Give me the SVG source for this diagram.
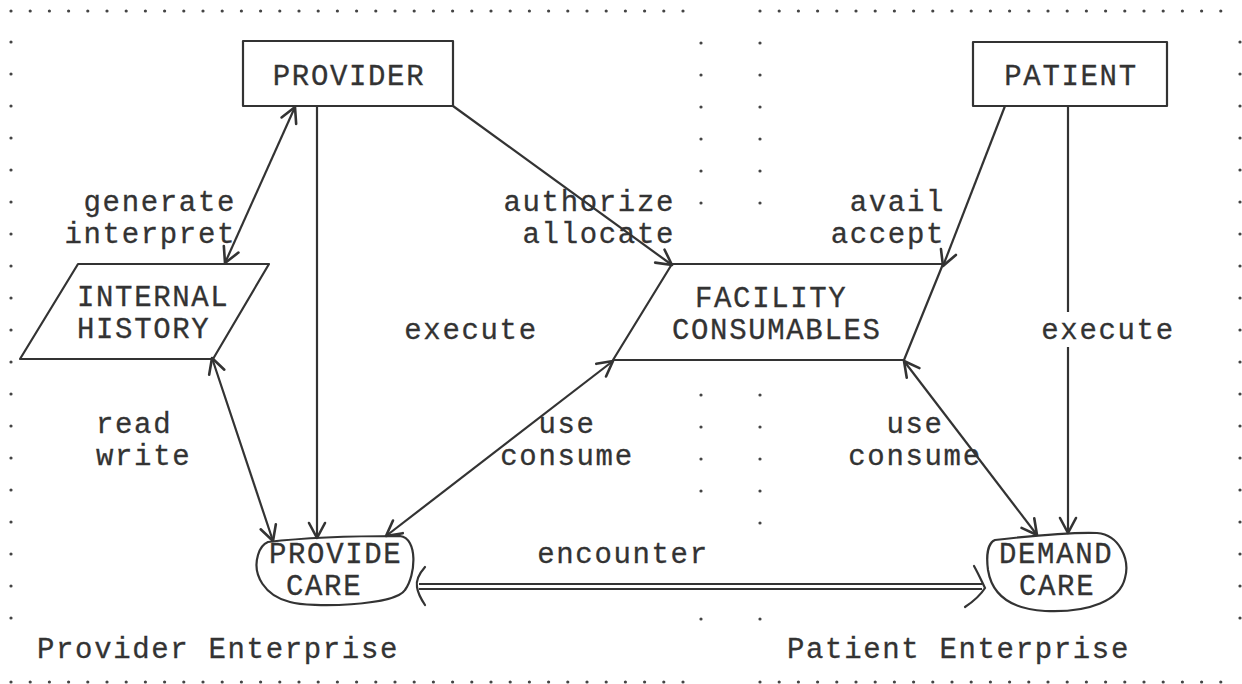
<svg xmlns="http://www.w3.org/2000/svg" width="1242" height="684" viewBox="0 0 1242 684">
<style>
text{font-family:"Liberation Mono","Courier New",monospace;font-size:29px;letter-spacing:1.65px;fill:#333;stroke:#333;stroke-width:0.3}
.node{fill:none;stroke:#333;stroke-width:2.2;stroke-linejoin:round}
.ln{fill:none;stroke:#333;stroke-width:2.2}
.dot{fill:none;stroke:#444;stroke-width:3.2;stroke-linecap:round}
.m{text-anchor:middle}
.e{text-anchor:end}
</style>
<defs>
<marker id="arr" markerUnits="userSpaceOnUse" markerWidth="30" markerHeight="30" viewBox="-20 -15 30 30" refX="0" refY="0" orient="auto-start-reverse">
<path d="M-15,-8 L0,0 L-15,8" fill="none" stroke="#333" stroke-width="2.6" stroke-linecap="round" stroke-linejoin="round"/>
</marker>
</defs>
<g id="borders">
<line class="dot" x1="11" y1="11" x2="702" y2="11" stroke-dasharray="0 19.2"/>
<line class="dot" x1="760" y1="11" x2="1240" y2="11" stroke-dasharray="0 19.2"/>
<line class="dot" x1="11" y1="682" x2="702" y2="682" stroke-dasharray="0 19.2"/>
<line class="dot" x1="760" y1="682" x2="1240" y2="682" stroke-dasharray="0 19.2"/>
<line class="dot" x1="11" y1="42" x2="11" y2="650" stroke-dasharray="0 32"/>
<line class="dot" x1="1240" y1="42" x2="1240" y2="650" stroke-dasharray="0 32"/>
<line class="dot" x1="701" y1="43" x2="701" y2="235" stroke-dasharray="0 32"/>
<line class="dot" x1="760" y1="43" x2="760" y2="235" stroke-dasharray="0 32"/>
<line class="dot" x1="701" y1="395" x2="701" y2="523" stroke-dasharray="0 32"/>
<line class="dot" x1="760" y1="395" x2="760" y2="555" stroke-dasharray="0 32"/>
<line class="dot" x1="701" y1="619" x2="701" y2="651" stroke-dasharray="0 32"/>
<line class="dot" x1="760" y1="619" x2="760" y2="651" stroke-dasharray="0 32"/>
</g>
<g id="connectors">
<line class="ln" x1="295" y1="107" x2="225" y2="263" marker-start="url(#arr)" marker-end="url(#arr)"/>
<line class="ln" x1="317" y1="106" x2="317" y2="538" marker-end="url(#arr)"/>
<line class="ln" x1="212" y1="358" x2="273" y2="541" marker-start="url(#arr)" marker-end="url(#arr)"/>
<line class="ln" x1="453" y1="106" x2="672" y2="265" marker-end="url(#arr)"/>
<line class="ln" x1="613" y1="361" x2="386" y2="536" marker-start="url(#arr)" marker-end="url(#arr)"/>
<line class="ln" x1="1005" y1="106" x2="943" y2="266" marker-end="url(#arr)"/>
<line class="ln" x1="1068" y1="106" x2="1068" y2="312"/>
<line class="ln" x1="1068" y1="347" x2="1068" y2="533" marker-end="url(#arr)"/>
<line class="ln" x1="904" y1="361" x2="1037" y2="535" marker-start="url(#arr)" marker-end="url(#arr)"/>
<line class="ln" x1="419" y1="584" x2="982" y2="584"/>
<line class="ln" x1="419" y1="589" x2="982" y2="589"/>
<path class="ln" d="M425,567 C418,575 416,582 417,587 C418,594 421,599 425,605" stroke-width="2.6" stroke-linecap="round"/>
<path class="ln" d="M974,566 C979,575 982,582 985,588 C980,596 974,601 965,607" stroke-width="2.6" stroke-linecap="round"/>
</g>
<g id="provider">
<rect class="node" x="243" y="41" width="210" height="65"/>
<text class="m" x="349" y="85">PROVIDER</text>
</g>
<g id="patient">
<rect class="node" x="973" y="42" width="194" height="64"/>
<text class="m" x="1071" y="85">PATIENT</text>
</g>
<g id="internal-history">
<polygon class="node" points="78,264 269,264 213,359 20,359"/>
<text x="77" y="306">INTERNAL</text>
<text x="77" y="338">HISTORY</text>
</g>
<g id="facility-consumables">
<polygon class="node" points="672,264 943,264 904,360 613,360"/>
<text x="695" y="307">FACILITY</text>
<text x="672" y="339">CONSUMABLES</text>
</g>
<g id="provide-care">
<path class="node" d="M268,542 C310,537 360,536 400,536 C418,538 416,575 405,590 C395,606 310,608 290,602 C265,596 252,575 258,555 C260,548 263,544 268,542 Z"/>
<text x="269" y="563">PROVIDE</text>
<text x="286" y="595">CARE</text>
</g>
<g id="demand-care">
<path class="node" d="M995,540 C1030,536 1070,532 1097,533 C1120,535 1130,560 1125,578 C1120,600 1090,613 1045,611 C1010,609 992,595 988,570 C986,555 988,543 995,540 Z"/>
<text x="999" y="563">DEMAND</text>
<text x="1019" y="595">CARE</text>
</g>
<g id="labels">
<text class="e" x="236" y="211">generate</text>
<text class="e" x="236" y="243">interpret</text>
<text class="e" x="675" y="211">authorize</text>
<text class="e" x="675" y="243">allocate</text>
<text class="e" x="945" y="211">avail</text>
<text class="e" x="945" y="243">accept</text>
<text class="m" x="471" y="339">execute</text>
<text class="m" x="1108" y="339">execute</text>
<text x="96" y="433">read</text>
<text x="96" y="465">write</text>
<text class="m" x="567" y="433">use</text>
<text class="m" x="567" y="465">consume</text>
<text class="m" x="915" y="433">use</text>
<text class="m" x="915" y="465">consume</text>
<text class="m" x="623" y="563">encounter</text>
<text x="37" y="658">Provider Enterprise</text>
<text x="787" y="658">Patient Enterprise</text>
</g>
</svg>
